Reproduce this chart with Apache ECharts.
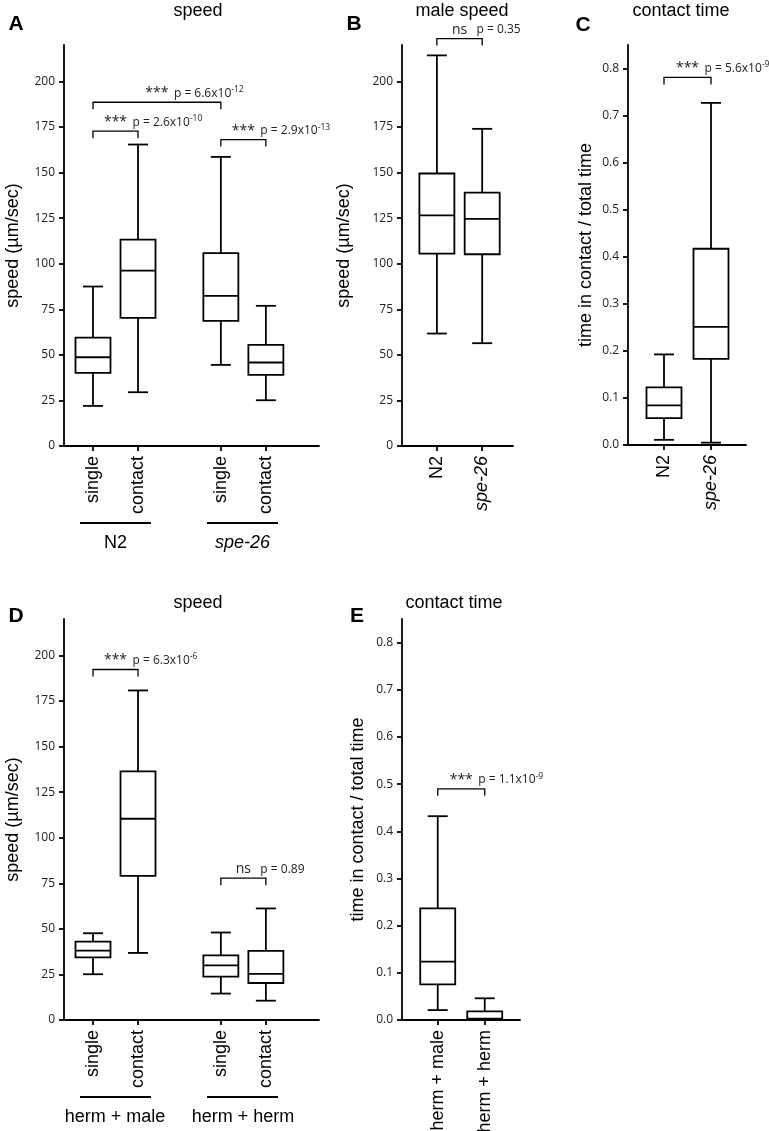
<!DOCTYPE html>
<html>
<head>
<meta charset="utf-8">
<script src="https://cdn.jsdelivr.net/npm/echarts@6/dist/echarts.min.js"></script>
<style>
  html, body { margin: 0; padding: 0; background: #fff; }
  #chart { width: 769px; height: 1131px; }
</style>
</head>
<body>
<div id="chart"></div>
<script>
// box = [min, q1, median, q3, max]
// panel A: speed, N2 / spe-26
const aPos = [1, 2, 3.84, 4.84];
const aLabels = ['single', 'contact', 'single', 'contact'];
const aN2Single = [22.0, 40.1, 48.7, 59.5, 87.5];
const aN2Contact = [29.5, 70.3, 96.2, 113.2, 165.4];
const aSpeSingle = [44.5, 68.7, 82.4, 105.8, 158.6];
const aSpeContact = [25.1, 39.0, 45.8, 55.5, 76.9];
const aBrackets = [[1, 3.84, 188.6], [1, 2, 172.7], [3.84, 4.84, 168.1]];
const aStars = ['***', '***', '***'];
const aP = ['p = 6.6x10', 'p = 2.6x10', 'p = 2.9x10'];
const aExp = ['-12', '-10', '-13'];

// panel B: male speed
const bPos = [1, 2];
const bLabels = ['N2', 'spe-26'];
const bN2 = [61.7, 105.5, 126.5, 149.5, 214.3];
const bSpe = [56.4, 105.2, 124.6, 139.0, 174.0];
const bBrackets = [[1, 2, 223.5]];
const bStars = ['ns'];
const bP = ['p = 0.35'];
const bExp = [''];

// panel C: contact time
const cPos = [1, 2];
const cLabels = ['N2', 'spe-26'];
const cN2 = [0.011, 0.057, 0.084, 0.1225, 0.1925];
const cSpe = [0.005, 0.183, 0.251, 0.417, 0.727];
const cBrackets = [[1, 2, 0.781]];
const cStars = ['***'];
const cP = ['p = 5.6x10'];
const cExp = ['-9'];

// panel D: speed, herm + male / herm + herm
const dPos = [1, 2, 3.84, 4.84];
const dLabels = ['single', 'contact', 'single', 'contact'];
const dHmSingle = [25.1, 34.4, 38.1, 43.0, 47.6];
const dHmContact = [36.8, 79.1, 110.4, 136.4, 180.8];
const dHhSingle = [14.5, 23.8, 30.0, 35.5, 48.0];
const dHhContact = [10.6, 20.3, 25.3, 37.9, 61.2];
const dBrackets = [[1, 2, 192.3], [3.84, 4.84, 77.8]];
const dStars = ['***', 'ns'];
const dP = ['p = 6.3x10', 'p = 0.89'];
const dExp = ['-6', ''];

// panel E: contact time
const ePos = [1, 2];
const eLabels = ['herm + male', 'herm + herm'];
const eHm = [0.021, 0.0756, 0.1236, 0.2366, 0.432];
const eHh = [0.0, 0.002, 0.003, 0.0184, 0.046];
const eBrackets = [[1, 2, 0.490]];
const eStars = ['***'];
const eP = ['p = 1.1x10'];
const eExp = ['-9'];

const speedTicks = [0, 25, 50, 75, 100, 125, 150, 175, 200];
const timeTicks = [0, 0.1, 0.2, 0.3, 0.4, 0.5, 0.6, 0.7, 0.8];

const FONT = "'Liberation Sans', Arial, sans-serif";
const NUMFONT = "'Open Sans', sans-serif";
const LW = 1.8;

const myChart = echarts.init(document.getElementById('chart'));

function renderBox(params, api) {
  const x = api.value(0);
  const pMin = api.coord([x, api.value(1)]);
  const pQ1 = api.coord([x, api.value(2)]);
  const pMed = api.coord([x, api.value(3)]);
  const pQ3 = api.coord([x, api.value(4)]);
  const pMax = api.coord([x, api.value(5)]);
  const cx = pMed[0];
  const half = 17.5, cap = 10;
  const st = {stroke: '#000', lineWidth: LW, fill: null};
  return {
    type: 'group',
    children: [
      {type: 'line', shape: {x1: cx, y1: pMax[1], x2: cx, y2: pQ3[1]}, style: st},
      {type: 'line', shape: {x1: cx, y1: pQ1[1], x2: cx, y2: pMin[1]}, style: st},
      {type: 'line', shape: {x1: cx - cap, y1: pMax[1], x2: cx + cap, y2: pMax[1]}, style: st},
      {type: 'line', shape: {x1: cx - cap, y1: pMin[1], x2: cx + cap, y2: pMin[1]}, style: st},
      {type: 'rect', shape: {x: cx - half, y: pQ3[1], width: half * 2, height: pQ1[1] - pQ3[1]},
        style: {stroke: '#000', lineWidth: LW, fill: '#fff'}},
      {type: 'line', shape: {x1: cx - half, y1: pMed[1], x2: cx + half, y2: pMed[1]}, style: st}
    ]
  };
}

function bracketRenderer(stars, ps, exps) {
  return function (params, api) {
    const i = params.dataIndex;
    const p1 = api.coord([api.value(0), api.value(2)]);
    const p2 = api.coord([api.value(1), api.value(2)]);
    const drop = 7;
    const mid = (p1[0] + p2[0]) / 2;
    const children = [
      {type: 'polyline',
        shape: {points: [[p1[0], p1[1] + drop], [p1[0], p1[1]], [p2[0], p2[1]], [p2[0], p2[1] + drop]]},
        style: {stroke: '#000', lineWidth: 1.3, fill: null}},
      {type: 'text', style: {text: stars[i], x: mid, y: p1[1] - 9, align: 'center', verticalAlign: 'middle',
        fontFamily: NUMFONT, fontSize: 14, fill: '#222'}},
      {type: 'text', style: {
        text: '{p|' + ps[i] + '}' + (exps[i] ? '{s|' + exps[i] + '}' : ''),
        x: mid + 17, y: p1[1] - 9, align: 'left', verticalAlign: 'middle',
        rich: {
          p: {fontFamily: NUMFONT, fontSize: 12, fill: '#222'},
          s: {fontFamily: NUMFONT, fontSize: 8.5, fill: '#222', padding: [0, 0, 7, 0]}
        }}}
    ];
    return {type: 'group', children: children};
  };
}

function xAxisFor(gridIndex, pos, labels, min, max) {
  return {
    gridIndex: gridIndex, type: 'value', min: min, max: max,
    axisLine: {show: true, onZero: false, lineStyle: {color: '#000', width: LW}},
    axisTick: {show: true, customValues: pos, length: 5, lineStyle: {color: '#000', width: LW}},
    axisLabel: {
      customValues: pos, rotate: 90, margin: 10,
      fontFamily: FONT, fontSize: 18, color: '#000',
      formatter: function (v) {
        let k = 0;
        for (let j = 0; j < pos.length; j++) if (Math.abs(pos[j] - v) < 1e-6) k = j;
        const t = labels[k];
        return t === 'spe-26' ? '{i|' + t + '}' : t;
      },
      rich: {i: {fontFamily: FONT, fontSize: 18, fontStyle: 'italic', color: '#000'}}
    },
    splitLine: {show: false}
  };
}

function yAxisFor(gridIndex, max, ticks, name, nameGap, decimals) {
  return {
    gridIndex: gridIndex, type: 'value', min: 0, max: max,
    axisLine: {show: true, lineStyle: {color: '#000', width: LW}},
    axisTick: {show: true, customValues: ticks, length: 5, lineStyle: {color: '#000', width: LW}},
    axisLabel: {
      customValues: ticks, margin: 9, fontFamily: NUMFONT, fontSize: 12, color: '#222',
      formatter: function (v) { return decimals ? v.toFixed(decimals) : String(v); }
    },
    splitLine: {show: false},
    name: name, nameLocation: 'middle', nameGap: nameGap, nameRotate: 90,
    nameTextStyle: {fontFamily: FONT, fontSize: 18, color: '#000'}
  };
}

function boxSeries(idx, pos, boxes) {
  return {
    type: 'custom', xAxisIndex: idx, yAxisIndex: idx, clip: false,
    renderItem: renderBox,
    encode: {x: 0, y: [1, 2, 3, 4, 5]},
    data: boxes.map(function (b, j) { return [pos[j]].concat(b); })
  };
}

function bracketSeries(idx, brackets, stars, ps, exps) {
  return {
    type: 'custom', xAxisIndex: idx, yAxisIndex: idx, clip: false,
    renderItem: bracketRenderer(stars, ps, exps),
    encode: {x: [0, 1], y: 2},
    data: brackets
  };
}

function txt(text, x, y, size, opts) {
  return {
    type: 'text', x: x, y: y,
    style: Object.assign({text: text, fontFamily: FONT, fontSize: size, fill: '#000',
      align: 'center', verticalAlign: 'middle'}, opts || {})
  };
}
function hline(x1, x2, y) {
  return {type: 'line', shape: {x1: x1, y1: y, x2: x2, y2: y}, style: {stroke: '#000', lineWidth: LW}};
}

const option = {
  backgroundColor: '#fff',
  animation: false,
  grid: [
    {left: 64, top: 45, width: 255, height: 401, containLabel: false, outerBoundsMode: 'none'},
    {left: 402, top: 45, width: 111, height: 401, containLabel: false, outerBoundsMode: 'none'},
    {left: 628, top: 45, width: 118, height: 400, containLabel: false, outerBoundsMode: 'none'},
    {left: 64, top: 619, width: 255, height: 401, containLabel: false, outerBoundsMode: 'none'},
    {left: 402, top: 619, width: 118, height: 401, containLabel: false, outerBoundsMode: 'none'}
  ],
  xAxis: [
    xAxisFor(0, aPos, aLabels, 0.356, 6.02),
    xAxisFor(1, bPos, bLabels, 0.23, 2.68),
    xAxisFor(2, cPos, cLabels, 0.234, 2.745),
    xAxisFor(3, dPos, dLabels, 0.356, 6.02),
    xAxisFor(4, ePos, eLabels, 0.24, 2.75)
  ],
  yAxis: [
    yAxisFor(0, 220, speedTicks, 'speed (\u00b5m/sec)', 42, 0),
    yAxisFor(1, 220, speedTicks, 'speed (\u00b5m/sec)', 49, 0),
    yAxisFor(2, 0.85, timeTicks, 'time in contact / total time', 33, 1),
    yAxisFor(3, 220, speedTicks, 'speed (\u00b5m/sec)', 42, 0),
    yAxisFor(4, 0.85, timeTicks, 'time in contact / total time', 35, 1)
  ],
  series: [
    boxSeries(0, aPos, [aN2Single, aN2Contact, aSpeSingle, aSpeContact]),
    bracketSeries(0, aBrackets, aStars, aP, aExp),
    boxSeries(1, bPos, [bN2, bSpe]),
    bracketSeries(1, bBrackets, bStars, bP, bExp),
    boxSeries(2, cPos, [cN2, cSpe]),
    bracketSeries(2, cBrackets, cStars, cP, cExp),
    boxSeries(3, dPos, [dHmSingle, dHmContact, dHhSingle, dHhContact]),
    bracketSeries(3, dBrackets, dStars, dP, dExp),
    boxSeries(4, ePos, [eHm, eHh]),
    bracketSeries(4, eBrackets, eStars, eP, eExp)
  ],
  graphic: [
    // panel titles
    txt('speed', 198, 11, 18),
    txt('male speed', 462, 11, 18),
    txt('contact time', 681, 11, 18),
    txt('speed', 198, 603, 18),
    txt('contact time', 454, 603, 18),
    // panel letters
    txt('A', 16, 24, 21, {fontWeight: 'bold'}),
    txt('B', 354, 24, 21, {fontWeight: 'bold'}),
    txt('C', 583, 25, 21, {fontWeight: 'bold'}),
    txt('D', 16, 616, 21, {fontWeight: 'bold'}),
    txt('E', 357, 616, 21, {fontWeight: 'bold'}),
    // group labels under panel A
    hline(80, 151, 523),
    hline(207, 278, 523),
    txt('N2', 115.5, 543, 18),
    txt('spe-26', 242.5, 543, 18, {fontStyle: 'italic'}),
    // group labels under panel D
    hline(80, 151, 1097),
    hline(207, 278, 1097),
    txt('herm + male', 115, 1117, 18),
    txt('herm + herm', 243, 1117, 18)
  ]
};

myChart.setOption(option);
</script>
</body>
</html>
